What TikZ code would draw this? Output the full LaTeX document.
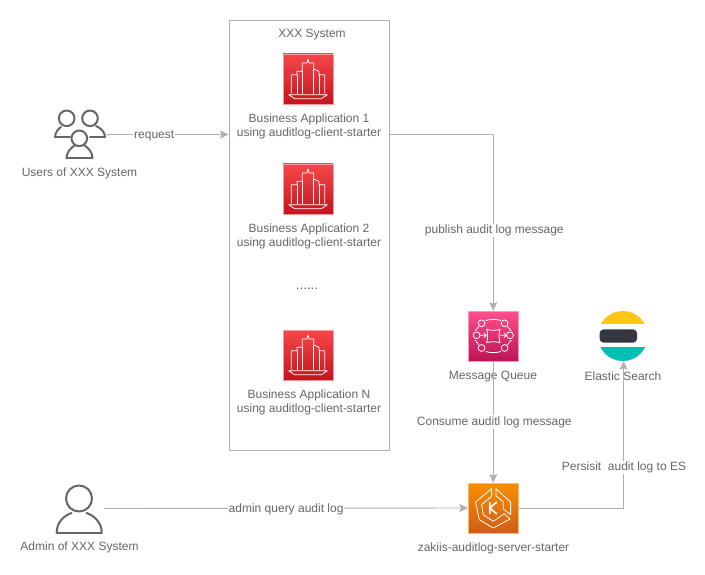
\documentclass[tikz,border=0pt]{standalone}
\usepackage{fontspec}
\setmainfont{Liberation Sans}
\usetikzlibrary{arrows.meta}
\definecolor{txt}{HTML}{666666}
\definecolor{conn}{HTML}{B0B0B0}
\definecolor{person}{HTML}{666666}
\tikzset{
  x=1bp,y=-1bp,
  every node/.style={font=\fontsize{12bp}{14bp}\selectfont,text=txt,inner sep=0pt,align=center},
  textlab/.style={yshift=-1.2bp},
  container/.style={draw=conn,line width=0.9bp,fill=white,minimum width=160bp,minimum height=430bp},
  iconbox/.style={minimum size=50bp,line width=0.6bp},
  redbox/.style={iconbox,draw=red1!55!white,top color=red1,bottom color=red2},
  pinkbox/.style={iconbox,draw=pink1!60!white,top color=pink1,bottom color=pink2},
  orangebox/.style={iconbox,draw=orange1!60!white,top color=orange1,bottom color=orange2},
  plainbox/.style={minimum size=50bp},
  conline/.style={draw=conn,line width=0.9bp},
  conarrow/.style={conline,-{Stealth[length=8.5bp,width=8bp,inset=1.5bp,fill=conn]}},
  edgelab/.style={textlab,fill=white,inner xsep=1bp,inner ysep=1bp},
  iconline/.style={draw=white,line width=0.8bp,line join=round},
  personline/.style={draw=person,line width=2bp,line join=round,line cap=round},
  bank/.pic={
    \draw[iconline] (-16.7,14.7) -- (-16.7,-4.3) -- (-11,-4.3) -- (-11,-7.7) -- (-5.7,-7.7) -- (-5.7,-16) -- (-1.2,-16) -- (0,-20) -- (1.2,-16) -- (5.7,-16) -- (5.7,-10) -- (11,-7.7) -- (11,-4.3) -- (16.7,-4.3) -- (16.7,14.7);
    \draw[iconline] (-11,-4.3) -- (-11,14.7) (-5.7,-7.7) -- (-5.7,14.7) (5.7,-10) -- (5.7,14.7) (11,-4.3) -- (11,14.7);
    \draw[iconline] (-19.3,15.7) -- (19.3,15.7) -- (13.3,19.7) -- (-13.3,19.7) -- cycle;
  },
  mq/.pic={
    \foreach \a/\b in {-11.7/-12.7,11.3/-12.7,-11.7/12,11.3/12,-16.7/-0.7,16.7/-0.7}{\draw[iconline] (\a,\b) circle (3.4bp);}
    \draw[iconline] (-6.7,-6.7) .. controls (-3,-5.4) and (3,-5.4) .. (6.7,-6.7) .. controls (5.4,-3) and (5.4,3) .. (6.7,6.7) .. controls (3,5.4) and (-3,5.4) .. (-6.7,6.7) .. controls (-5.4,3) and (-5.4,-3) .. cycle;
    \draw[iconline] (-7.5,-15.5) .. controls (-3,-17) and (3,-17) .. (7.5,-15.5);
    \draw[iconline] (-7.5,15.5) .. controls (-3,17) and (3,17) .. (7.5,15.5);
    \draw[iconline] (-14.5,-9.5) -- (-18,-5) (14,-9.5) -- (18,-5) (-14.5,9) -- (-18,4) (14,9) -- (18,4);
    \draw[iconline] (-13.2,-0.7) -- (-7,-0.7) (-9.5,-3) -- (-7,-0.7) -- (-9.5,1.6);
    \draw[iconline] (7,-0.7) -- (13.2,-0.7) (10.7,-3) -- (13.2,-0.7) -- (10.7,1.6);
  },
  kube/.pic={
    \draw[iconline] (-1.7,-19.3) -- (-17.7,-6) -- (-14,11.7) -- (0,20) -- (16.7,11) -- (11,5.7) -- (0,13.3) -- (-10,6.7) -- (-11.7,-3.3) -- (-1.7,-11.7) -- cycle;
    \draw[iconline] (2.7,-19.3) -- (17.3,-6) -- (17.3,6.7) -- (10,1) -- (10,-6) -- (2.7,-12.3) -- cycle;
    \draw[white,line width=1.6bp,line join=miter] (-3.5,-6) -- (-3.5,6) (3.5,-6) -- (-3.5,0) -- (3.5,6);
  },
  elastic/.pic={
    \begin{scope}
      \clip (0,0) circle (25bp);
      \fill[fill=esyellow] (-26,-26) rectangle (26,-11.7);
      \fill[fill=esgreen] (-26,10.7) rectangle (26,26);
    \end{scope}
    \fill[fill=esdark,rounded corners=4bp] (-23.2,-6.7) rectangle (14.2,6.7);
  },
  users/.pic={
    \draw[personline] (-12.8,-16.2) circle (7.8bp) (10.5,-16.2) circle (7.8bp) (-0.2,3.8) circle (7.8bp);
    \draw[personline] (-24.5,2.8) .. controls (-24.5,-3) and (-20,-6.5) .. (-18.5,-7.5);
    \draw[personline] (-24.5,2.8) -- (-9.5,2.8);
    \draw[personline] (25.5,2.8) .. controls (25.5,-3) and (21,-6.5) .. (16.5,-8.5);
    \draw[personline] (25.5,2.8) -- (10.5,2.8);
    \draw[personline] (-13,23.8) .. controls (-13,17) and (-8,13) .. (-5,11) (13,23.8) .. controls (13,17) and (8,13) .. (5,11);
    \draw[personline] (-13,23.8) -- (13,23.8);
  },
  admin/.pic={
    \draw[personline] (-22.3,24) .. controls (-22.3,14) and (-15,7) .. (-7.5,4.5);
    \draw[personline] (22.7,24) .. controls (22.7,14) and (15,7) .. (7.5,4.5);
    \draw[personline] (-22.3,24) -- (22.7,24);
    \draw[personline,fill=white] (0,-10) circle (13bp);
  },
}
\definecolor{red1}{HTML}{F54749}
\definecolor{red2}{HTML}{C7131F}
\definecolor{pink1}{HTML}{FF4F8B}
\definecolor{pink2}{HTML}{BC1356}
\definecolor{orange1}{HTML}{F78E04}
\definecolor{orange2}{HTML}{D05C17}
\definecolor{esyellow}{HTML}{FEC514}
\definecolor{esgreen}{HTML}{00BFB3}
\definecolor{esdark}{HTML}{343741}
\begin{document}
\begin{tikzpicture}
\useasboundingbox[fill=white] (0,0) rectangle (705,575);
% container
\node[container] (sys) at (309,235) {};
\node[textlab] (systitle) at (312,33) {XXX System};
% applications
\node[redbox] (app1) at (308,79) {}; \pic at (app1) {bank};
\node[textlab] (app1lab) at (309,125) {Business Application 1\\using auditlog-client-starter};
\node[redbox] (app2) at (308,189) {}; \pic at (app2) {bank};
\node[textlab] (app2lab) at (309,235) {Business Application 2\\using auditlog-client-starter};
\node[textlab,font=\fontsize{13.4bp}{14bp}\selectfont] (dots) at (307,288) {......};
\node[redbox] (appn) at (308,355) {}; \pic at (appn) {bank};
\node[textlab] (appnlab) at (309,401) {Business Application N\\using auditlog-client-starter};
% people
\node[plainbox] (usr) at (79.5,134.5) {}; \pic at (usr) {users};
\node[textlab] (usrlab) at (79.5,172) {Users of XXX System};
\node[plainbox] (adm) at (79,508.5) {}; \pic at (adm) {admin};
\node[textlab] (admlab) at (79.5,546.5) {Admin of XXX System};
% services
\node[pinkbox] (mq) at (493.3,336) {}; \pic at (mq) {mq};
\node[textlab] (mqlab) at (493,375) {Message Queue};
\node[plainbox] (es) at (623.6,336) {}; \pic at ([xshift=-0.8bp]es.center) {elastic};
\node[textlab] (eslab) at (623,375) {Elastic Search};
\node[orangebox] (k8s) at (493.3,508) {}; \pic at (k8s) {kube};
\node[textlab] (k8slab) at (493.5,547) {zakiis-auditlog-server-starter};
% connector anchors on the container border
\coordinate (reqend) at (sys.west |- usr);
\coordinate (pubstart) at (sys.east |- usr);
% connectors
\draw[conarrow] (usr.east) -- node[edgelab,pos=.40] {request} (reqend);
\draw[conarrow] (pubstart) -| node[edgelab,pos=.768,xshift=1bp] {publish audit log message} (mq.north);
\draw[conarrow] (mq.south) -- node[edgelab,pos=.49,xshift=1bp] {Consume auditl log message} (k8s.north);
\draw[conarrow] (adm.east) -- node[edgelab,pos=.5] {admin query audit log} (k8s.west);
\draw[conarrow] (k8s.east) -| node[edgelab,pos=.643,xshift=.4bp] {Persisit\ \ audit log to ES} (es.south);
\end{tikzpicture}
\end{document}
